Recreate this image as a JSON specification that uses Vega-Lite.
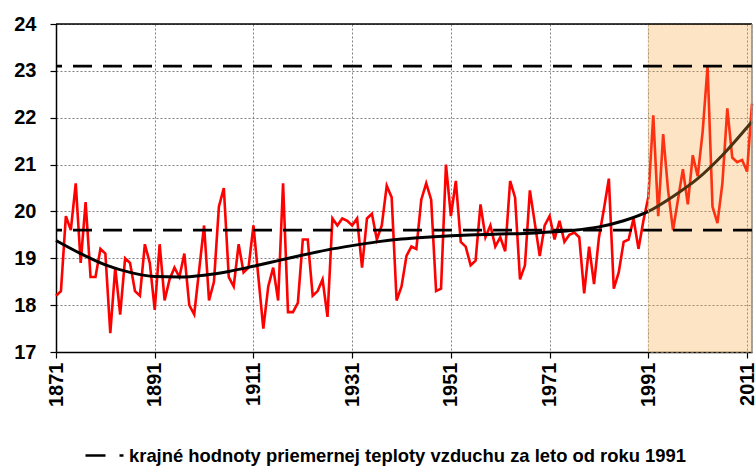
{
  "$schema": "https://vega.github.io/schema/vega-lite/v6.json",
  "width": 696,
  "height": 328,
  "autosize": "none",
  "padding": {"left": 56, "top": 24, "right": 4, "bottom": 114},
  "background": "white",
  "config": {
    "view": {"stroke": null},
    "font": "Liberation Sans",
    "axis": {
      "domainColor": "#000000",
      "domainWidth": 1.5,
      "tickColor": "#000000",
      "tickWidth": 1.2,
      "tickSize": 6,
      "gridColor": "#808080",
      "gridDash": [2, 2],
      "gridWidth": 1,
      "labelFont": "Liberation Sans",
      "labelFontWeight": "bold",
      "labelFontSize": 20,
      "labelColor": "#000000"
    }
  },
  "datasets": {
    "temps": [
      {"year": 1871, "value": 18.2}, {"year": 1872, "value": 18.3}, {"year": 1873, "value": 19.9}, {"year": 1874, "value": 19.6},
      {"year": 1875, "value": 20.6}, {"year": 1876, "value": 18.9}, {"year": 1877, "value": 20.2}, {"year": 1878, "value": 18.6},
      {"year": 1879, "value": 18.6}, {"year": 1880, "value": 19.2}, {"year": 1881, "value": 19.1}, {"year": 1882, "value": 17.4},
      {"year": 1883, "value": 18.8}, {"year": 1884, "value": 17.8}, {"year": 1885, "value": 19.0}, {"year": 1886, "value": 18.9},
      {"year": 1887, "value": 18.3}, {"year": 1888, "value": 18.2}, {"year": 1889, "value": 19.3}, {"year": 1890, "value": 18.9},
      {"year": 1891, "value": 17.9}, {"year": 1892, "value": 19.3}, {"year": 1893, "value": 18.1}, {"year": 1894, "value": 18.55},
      {"year": 1895, "value": 18.8}, {"year": 1896, "value": 18.6}, {"year": 1897, "value": 19.1}, {"year": 1898, "value": 18.0},
      {"year": 1899, "value": 17.8}, {"year": 1900, "value": 18.75}, {"year": 1901, "value": 19.7}, {"year": 1902, "value": 18.1},
      {"year": 1903, "value": 18.5}, {"year": 1904, "value": 20.1}, {"year": 1905, "value": 20.5}, {"year": 1906, "value": 18.6},
      {"year": 1907, "value": 18.4}, {"year": 1908, "value": 19.3}, {"year": 1909, "value": 18.7}, {"year": 1910, "value": 18.8},
      {"year": 1911, "value": 19.7}, {"year": 1912, "value": 18.6}, {"year": 1913, "value": 17.5}, {"year": 1914, "value": 18.4},
      {"year": 1915, "value": 18.8}, {"year": 1916, "value": 18.1}, {"year": 1917, "value": 20.6}, {"year": 1918, "value": 17.85},
      {"year": 1919, "value": 17.85}, {"year": 1920, "value": 18.05}, {"year": 1921, "value": 19.4}, {"year": 1922, "value": 19.4},
      {"year": 1923, "value": 18.2}, {"year": 1924, "value": 18.3}, {"year": 1925, "value": 18.55}, {"year": 1926, "value": 17.75},
      {"year": 1927, "value": 19.85}, {"year": 1928, "value": 19.7}, {"year": 1929, "value": 19.85}, {"year": 1930, "value": 19.8},
      {"year": 1931, "value": 19.7}, {"year": 1932, "value": 19.85}, {"year": 1933, "value": 18.8}, {"year": 1934, "value": 19.85},
      {"year": 1935, "value": 19.95}, {"year": 1936, "value": 19.4}, {"year": 1937, "value": 19.7}, {"year": 1938, "value": 20.55},
      {"year": 1939, "value": 20.3}, {"year": 1940, "value": 18.1}, {"year": 1941, "value": 18.4}, {"year": 1942, "value": 19.05},
      {"year": 1943, "value": 19.25}, {"year": 1944, "value": 19.2}, {"year": 1945, "value": 20.25}, {"year": 1946, "value": 20.6},
      {"year": 1947, "value": 20.25}, {"year": 1948, "value": 18.3}, {"year": 1949, "value": 18.35}, {"year": 1950, "value": 21.0},
      {"year": 1951, "value": 19.9}, {"year": 1952, "value": 20.65}, {"year": 1953, "value": 19.35}, {"year": 1954, "value": 19.25},
      {"year": 1955, "value": 18.85}, {"year": 1956, "value": 18.95}, {"year": 1957, "value": 20.15}, {"year": 1958, "value": 19.45},
      {"year": 1959, "value": 19.7}, {"year": 1960, "value": 19.25}, {"year": 1961, "value": 19.45}, {"year": 1962, "value": 19.15},
      {"year": 1963, "value": 20.65}, {"year": 1964, "value": 20.3}, {"year": 1965, "value": 18.55}, {"year": 1966, "value": 18.85},
      {"year": 1967, "value": 20.45}, {"year": 1968, "value": 19.75}, {"year": 1969, "value": 19.05}, {"year": 1970, "value": 19.7},
      {"year": 1971, "value": 19.9}, {"year": 1972, "value": 19.4}, {"year": 1973, "value": 19.8}, {"year": 1974, "value": 19.35},
      {"year": 1975, "value": 19.5}, {"year": 1976, "value": 19.55}, {"year": 1977, "value": 19.45}, {"year": 1978, "value": 18.25},
      {"year": 1979, "value": 19.25}, {"year": 1980, "value": 18.45}, {"year": 1981, "value": 19.45}, {"year": 1982, "value": 20.05},
      {"year": 1983, "value": 20.7}, {"year": 1984, "value": 18.35}, {"year": 1985, "value": 18.7}, {"year": 1986, "value": 19.35},
      {"year": 1987, "value": 19.4}, {"year": 1988, "value": 19.85}, {"year": 1989, "value": 19.2}, {"year": 1990, "value": 19.8},
      {"year": 1991, "value": 20.3}, {"year": 1992, "value": 22.05}, {"year": 1993, "value": 19.9}, {"year": 1994, "value": 21.65},
      {"year": 1995, "value": 20.45}, {"year": 1996, "value": 19.6}, {"year": 1997, "value": 20.25}, {"year": 1998, "value": 20.9},
      {"year": 1999, "value": 20.15}, {"year": 2000, "value": 21.2}, {"year": 2001, "value": 20.75}, {"year": 2002, "value": 21.7},
      {"year": 2003, "value": 23.1}, {"year": 2004, "value": 20.1}, {"year": 2005, "value": 19.75}, {"year": 2006, "value": 20.6},
      {"year": 2007, "value": 22.2}, {"year": 2008, "value": 21.15}, {"year": 2009, "value": 21.05}, {"year": 2010, "value": 21.1},
      {"year": 2011, "value": 20.85}, {"year": 2012, "value": 22.3}
    ],
    "trend": [
      {"year": 1871, "value": 19.38}, {"year": 1876, "value": 19.1}, {"year": 1881, "value": 18.86}, {"year": 1886, "value": 18.7},
      {"year": 1891, "value": 18.61}, {"year": 1896, "value": 18.6}, {"year": 1901, "value": 18.64}, {"year": 1906, "value": 18.72},
      {"year": 1911, "value": 18.83}, {"year": 1916, "value": 18.95}, {"year": 1921, "value": 19.07}, {"year": 1926, "value": 19.18},
      {"year": 1931, "value": 19.27}, {"year": 1936, "value": 19.35}, {"year": 1941, "value": 19.41}, {"year": 1946, "value": 19.45},
      {"year": 1951, "value": 19.48}, {"year": 1956, "value": 19.5}, {"year": 1961, "value": 19.52}, {"year": 1966, "value": 19.53},
      {"year": 1971, "value": 19.56}, {"year": 1976, "value": 19.6}, {"year": 1981, "value": 19.67}, {"year": 1986, "value": 19.8},
      {"year": 1991, "value": 20.0}, {"year": 1996, "value": 20.32}, {"year": 2001, "value": 20.7}, {"year": 2006, "value": 21.2},
      {"year": 2012, "value": 21.92}
    ],
    "shade": [{"start": 1991, "end": 2012}],
    "limits": [
      {"value": 23.1, "series": "krajné hodnoty priemernej teploty vzduchu za leto od roku 1991"},
      {"value": 19.6, "series": "krajné hodnoty priemernej teploty vzduchu za leto od roku 1991"}
    ]
  },
  "layer": [
    {
      "data": {"name": "temps"},
      "mark": {"type": "line", "color": "#FF0000", "strokeWidth": 2.6},
      "encoding": {
        "x": {
          "field": "year", "type": "quantitative", "title": null,
          "scale": {"domain": [1871, 2012], "nice": false, "zero": false},
          "axis": {"values": [1871, 1891, 1911, 1931, 1951, 1971, 1991, 2011], "labelAngle": -90, "labelPadding": 4, "grid": true, "format": "d"}
        },
        "y": {
          "field": "value", "type": "quantitative", "title": null,
          "scale": {"domain": [17, 24], "nice": false, "zero": false},
          "axis": {"values": [17, 18, 19, 20, 21, 22, 23, 24], "labelPadding": 14, "grid": true}
        }
      }
    },
    {
      "data": {"name": "trend"},
      "mark": {"type": "line", "color": "#000000", "strokeWidth": 3, "interpolate": "monotone"},
      "encoding": {
        "x": {"field": "year", "type": "quantitative", "title": null},
        "y": {"field": "value", "type": "quantitative", "title": null}
      }
    },
    {
      "data": {"name": "shade"},
      "mark": {"type": "rect", "fill": "#F5A53A", "fillOpacity": 0.3, "stroke": "#D9B68A", "strokeWidth": 1, "strokeDash": [3, 2]},
      "encoding": {
        "x": {"field": "start", "type": "quantitative", "title": null},
        "x2": {"field": "end"}
      }
    },
    {
      "data": {"values": [{"y": 24}]},
      "mark": {"type": "rule", "color": "#000000", "strokeWidth": 1.5},
      "encoding": {"y": {"field": "y", "type": "quantitative", "title": null}}
    },
    {
      "data": {"values": [{"x": 2012}]},
      "mark": {"type": "rule", "color": "#8C8C8C", "strokeWidth": 1.5},
      "encoding": {"x": {"field": "x", "type": "quantitative", "title": null}}
    },
    {
      "data": {"name": "limits"},
      "mark": {"type": "rule", "strokeWidth": 2.6, "strokeDash": [19, 11]},
      "encoding": {
        "y": {"field": "value", "type": "quantitative", "title": null},
        "color": {
          "field": "series", "type": "nominal",
          "scale": {"range": ["#000000"]},
          "legend": {
            "orient": "none", "legendX": 28, "legendY": 411, "title": null,
            "symbolType": "stroke", "symbolSize": 1444, "symbolStrokeWidth": 2.6,
            "symbolDash": [20, 14],
            "labelFont": "Liberation Sans", "labelFontWeight": "bold", "labelFontSize": 18.4,
            "labelColor": "#000000", "labelLimit": 0, "labelOffset": 4, "padding": 0
          }
        }
      }
    }
  ]
}
